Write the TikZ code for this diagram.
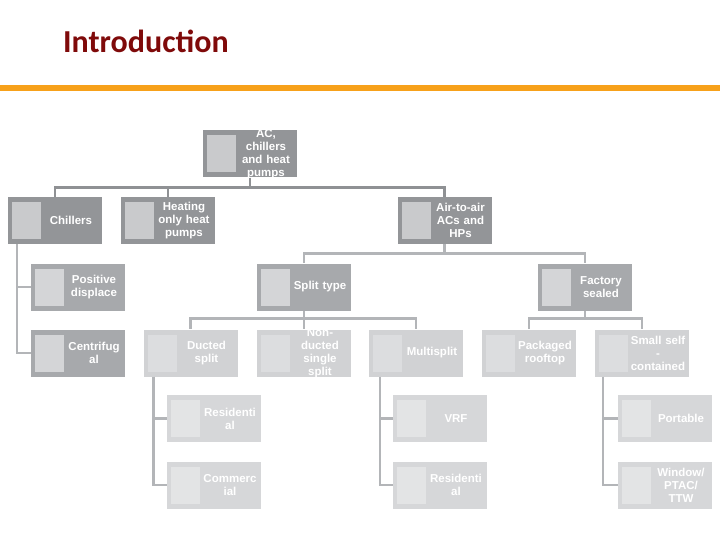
\documentclass[tikz,border=0pt]{standalone}
\usepackage{fontspec}
\setmainfont{Liberation Sans}
\newfontfamily\titlefont{Carlito}
\usepackage{xcolor}
\usetikzlibrary{positioning}

\definecolor{titlered}{HTML}{7F0A0A}
\definecolor{barorange}{HTML}{F7A11A}
\definecolor{greya}{HTML}{939598}
\definecolor{greyai}{HTML}{C9CACC}
\definecolor{greyb}{HTML}{A7A9AC}
\definecolor{greybi}{HTML}{D4D5D7}
\definecolor{greyc}{HTML}{D1D2D4}
\definecolor{greyci}{HTML}{DCDDDF}
\definecolor{greyd}{HTML}{D6D7D9}
\definecolor{greydi}{HTML}{E3E4E5}
\definecolor{linea}{HTML}{8F9194}
\definecolor{lineb}{HTML}{B3B5B8}

\tikzset{
    catbox/.style 2 args={fill=#1, minimum width=94pt, minimum height=47pt, inner sep=0pt,
        path picture={\fill[#2] ([xshift=4pt,yshift=-5pt]path picture bounding box.north west) rectangle ++(29pt,-37pt);}},
    lvla/.style={catbox={greya}{greyai}},
    lvlb/.style={catbox={greyb}{greybi}},
    lvlc/.style={catbox={greyc}{greyci}},
    lvld/.style={catbox={greyd}{greydi}},
    lbl/.style={anchor=center, xshift=16pt, text=white, text width=60pt, align=center,
        inner sep=0pt, font=\fontsize{11.5}{13}\selectfont\bfseries},
    conna/.style={draw=linea, line width=2.6pt},
    connb/.style={draw=lineb, line width=2.6pt}
}

\begin{document}
\begin{tikzpicture}[x=1pt, y=-1pt]
    \useasboundingbox (0,0) rectangle (720,540);

    % title and bar
    \node[anchor=base west, inner sep=0pt, text=titlered] (title) at (63,53)
        {\titlefont\bfseries\fontsize{32}{38}\selectfont Introduction};
    \fill[barorange] (0,85) rectangle (720,91);

    % boxes
    \node[lvla, label={[lbl]center:{AC,\\chillers\\and heat\\pumps}}] (root) at (250,154) {};
    \node[lvla, label={[lbl]center:{Chillers}}] (chill) at (55,220.5) {};
    \node[lvla, label={[lbl]center:{Heating\\only heat\\pumps}}] (heat) at (168,220.5) {};
    \node[lvla, label={[lbl]center:{Air-to-air\\ACs and\\HPs}}] (air) at (444.5,220.5) {};

    \node[lvlb, label={[lbl]center:{Positive\\displace}}] (pos) at (78,287) {};
    \node[lvlb, label={[lbl]center:{Centrifug\\al}}] (cent) at (78,353) {};
    \node[lvlb, label={[lbl]center:{Split type}}] (split) at (304,287) {};
    \node[lvlb, label={[lbl]center:{Factory\\sealed}}] (fact) at (585,287) {};

    \node[lvlc, label={[lbl]center:{Ducted\\split}}] (duct) at (190.5,353) {};
    \node[lvlc, label={[lbl]center:{Non-\\ducted\\single\\split}}] (nond) at (304,353) {};
    \node[lvlc, label={[lbl]center:{Multisplit}}] (multi) at (416,353) {};
    \node[lvlc, label={[lbl]center:{Packaged\\rooftop}}] (pack) at (529,353) {};
    \node[lvlc, label={[lbl]center:{Small self\\-\\contained}}] (small) at (642,353) {};

    \node[lvld, label={[lbl]center:{Residenti\\al}}] (resa) at (214,418.5) {};
    \node[lvld, label={[lbl]center:{Commerc\\ial}}] (comm) at (214,485) {};
    \node[lvld, label={[lbl]center:{VRF}}] (vrf) at (440,418.5) {};
    \node[lvld, label={[lbl]center:{Residenti\\al}}] (resb) at (440,485) {};
    \node[lvld, label={[lbl]center:{Portable}}] (port) at (665,418.5) {};
    \node[lvld, label={[lbl]center:{Window/\\PTAC/\\TTW}}] (wind) at (665,485) {};

    % connectors
    \path[conna] (root.south) -- ++(0,10) -| (chill.north)
                 (root.south) -- ++(0,10) -| (heat.north)
                 (root.south) -- ++(0,10) -| (air.north);
    \path[connb] (air.south) -- ++(0,9) -| (split.north)
                 (air.south) -- ++(0,9) -| (fact.north)
                 (split.south) -- ++(0,8) -| (duct.north)
                 (split.south) -- (nond.north)
                 (split.south) -- ++(0,8) -| (multi.north)
                 (fact.south) -- ++(0,8) -| (pack.north)
                 (fact.south) -- ++(0,8) -| (small.north);
    \path[connb] ([xshift=-38pt]chill.south) |- (pos.west)
                 ([xshift=-38pt]chill.south) |- (cent.west)
                 ([xshift=-37pt]duct.south) |- (resa.west)
                 ([xshift=-37pt]duct.south) |- (comm.west)
                 ([xshift=-36pt]multi.south) |- (vrf.west)
                 ([xshift=-36pt]multi.south) |- (resb.west)
                 ([xshift=-39pt]small.south) |- (port.west)
                 ([xshift=-39pt]small.south) |- (wind.west);
\end{tikzpicture}
\end{document}
